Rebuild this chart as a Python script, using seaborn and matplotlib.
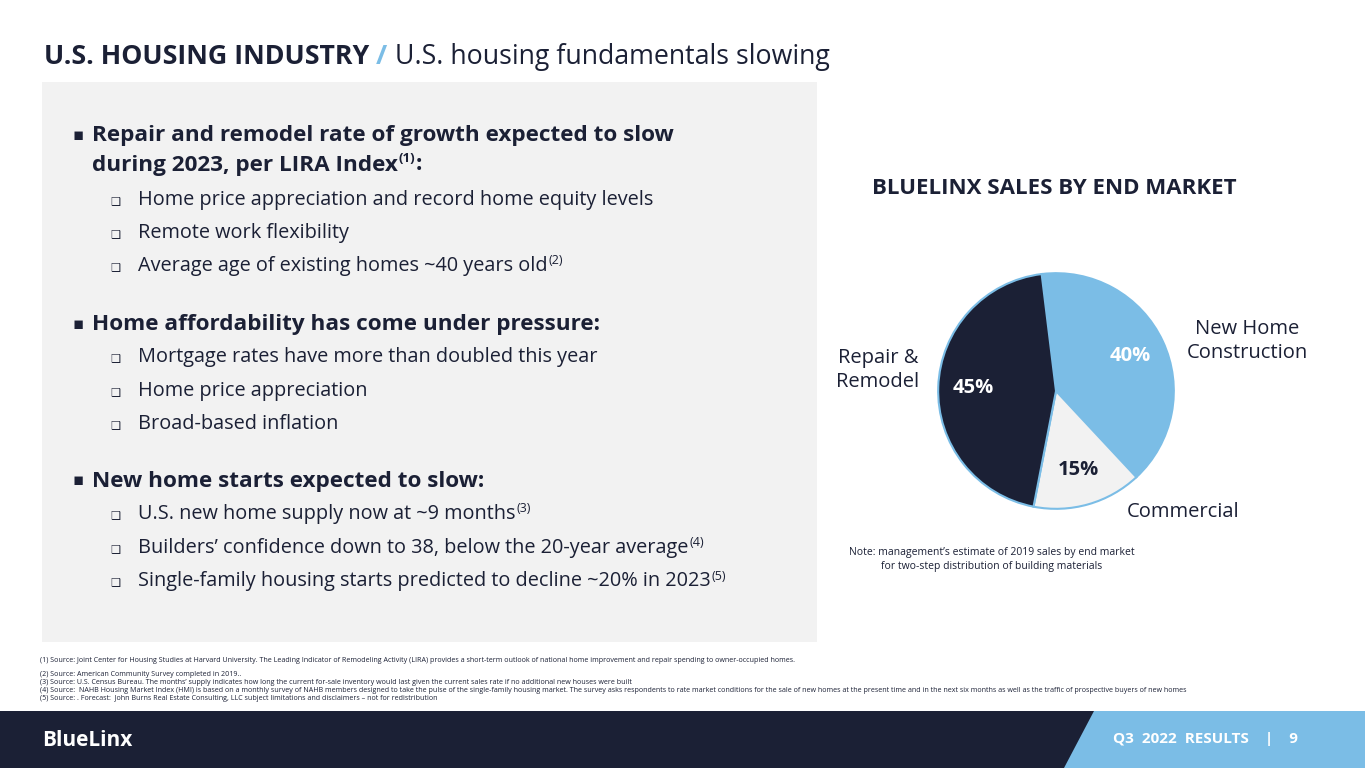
import matplotlib.pyplot as plt
import matplotlib.patches as mpatches
import seaborn as sns

sns.set_theme(style="white")
plt.rcParams["font.family"] = ["Open Sans", "DejaVu Sans"]

# data
segments = ["New Home Construction", "Commercial", "Repair & Remodel"]
shares = [40, 15, 45]
seg_colors = ["#7bbde6", "#f2f2f2", "#1b2035"]
pct_colors = ["white", "#1b2035", "white"]

NAVY = "#1b2035"
BLUE = "#7bbde6"
W, H = 1365, 768

fig = plt.figure(figsize=(13.65, 7.68), dpi=100)
fig.patch.set_facecolor("white")
r = fig.canvas.get_renderer()


def P(x, y):
    return x / W, 1 - y / H


def txt(x, y, s, **kw):
    return fig.text(*P(x, y), s, **kw)


def after(t, s, y, dx=1, dy=0, **kw):
    # place text s right after t, centred on row y (pixels from top)
    bb = t.get_window_extent(r)
    return fig.text((bb.x1 + dx) / W, 1 - (y - dy) / H, s, **kw)


# title
t = txt(44, 57, "U.S. HOUSING INDUSTRY ", fontsize=19.3, fontweight="bold", color=NAVY, va="center")
t2 = after(t, "/", 57, dx=0, fontsize=19.5, color=BLUE, fontweight="bold", va="center")
after(t2, " U.S. housing fundamentals slowing", 57, dx=0, fontsize=19.3, color=NAVY, va="center")

# grey panel
fig.patches.append(mpatches.Rectangle(P(42, 642), 775 / W, 560 / H, transform=fig.transFigure,
                                      facecolor="#f2f2f2", edgecolor="none", zorder=0))

main = dict(fontsize=16.2, fontweight="bold", color=NAVY, va="center")
subf = dict(fontsize=14.3, color=NAVY, va="center")

txt(73, 136, "▪", fontsize=12, color=NAVY, va="center")
txt(92, 136, "Repair and remodel rate of growth expected to slow", **main)
t = txt(92, 165, "during 2023, per LIRA Index", **main)
s1 = after(t, "(1)", 165, dx=1, dy=6, fontsize=9.5, color=NAVY, fontweight="bold", va="center")
after(s1, ":", 165, dx=0, **main)

items = [
    (200, "Home price appreciation and record home equity levels", None),
    (233, "Remote work flexibility", None),
    (266, "Average age of existing homes ~40 years old", "(2)"),
]
items2 = [
    (357, "Mortgage rates have more than doubled this year", None),
    (391, "Home price appreciation", None),
    (424, "Broad-based inflation", None),
]
items3 = [
    (514, "U.S. new home supply now at ~9 months", "(3)"),
    (548, "Builders’ confidence down to 38, below the 20-year average", "(4)"),
    (581, "Single-family housing starts predicted to decline ~20% in 2023", "(5)"),
]


def sub_list(lst):
    for y, s, note in lst:
        txt(110, y + 1, "❑", fontsize=8, color=NAVY, va="center", family=["DejaVu Sans"])
        t = txt(138, y, s, **subf)
        if note:
            after(t, note, y, dx=1, dy=5, fontsize=9, color=NAVY, va="center")


sub_list(items)
txt(73, 325, "▪", fontsize=12, color=NAVY, va="center")
txt(92, 325, "Home affordability has come under pressure:", **main)
sub_list(items2)
txt(73, 481, "▪", fontsize=12, color=NAVY, va="center")
txt(92, 481, "New home starts expected to slow:", **main)
sub_list(items3)

# pie
txt(1054, 188, "BLUELINX SALES BY END MARKET", fontsize=16, fontweight="bold", color=NAVY,
    ha="center", va="center")
ax = fig.add_axes([937 / W, 1 - 510 / H, 238 / W, 238 / H])
wedges, _, autotexts = ax.pie(shares, colors=seg_colors, startangle=97, counterclock=False,
                              autopct="%d%%", pctdistance=0.7,
                              wedgeprops=dict(edgecolor=BLUE, linewidth=1.5))
for a, c in zip(autotexts, pct_colors):
    a.set_color(c)
    a.set_fontsize(14.5)
    a.set_fontweight("bold")
ax.set_xlim(-1.01, 1.01)
ax.set_ylim(-1.01, 1.01)
ax.set_aspect("equal")

lab = dict(fontsize=14.5, color=NAVY, va="center")
txt(878, 370, "Repair &\nRemodel", ha="center", linespacing=1.25, **lab)
txt(1247, 341, "New Home\nConstruction", ha="center", linespacing=1.25, **lab)
txt(1183, 512, "Commercial", ha="center", **lab)

txt(849, 553, "Note: management’s estimate of 2019 sales by end market", fontsize=7.5, color=NAVY, va="center")
txt(881, 566, "for two-step distribution of building materials", fontsize=7.5, color=NAVY, va="center")

# footnotes
notes = [
    (661, "(1) Source: Joint Center for Housing Studies at Harvard University. The Leading Indicator of Remodeling Activity (LIRA) provides a short-term outlook of national home improvement and repair spending to owner-occupied homes."),
    (674, "(2) Source: American Community Survey completed in 2019.."),
    (682, "(3) Source: U.S. Census Bureau. The months’ supply indicates how long the current for-sale inventory would last given the current sales rate if no additional new houses were built"),
    (690, "(4) Source:  NAHB Housing Market Index (HMI) is based on a monthly survey of NAHB members designed to take the pulse of the single-family housing market. The survey asks respondents to rate market conditions for the sale of new homes at the present time and in the next six months as well as the traffic of prospective buyers of new homes"),
    (698, "(5) Source: . Forecast:  John Burns Real Estate Consulting, LLC subject limitations and disclaimers – not for redistribution"),
]
for y, s in notes:
    txt(40, y, s, fontsize=5.1, color=NAVY, va="center")

# footer
fig.patches.append(mpatches.Rectangle(P(0, 768), 1, 57 / H, transform=fig.transFigure,
                                      facecolor=NAVY, edgecolor="none", zorder=0))
fig.patches.append(mpatches.Polygon([P(1094, 711), P(1365, 711), P(1365, 768), P(1064, 768)],
                                    closed=True, transform=fig.transFigure,
                                    facecolor=BLUE, edgecolor="none", zorder=0))
txt(42, 740, "BlueLinx", fontsize=15, fontweight="bold", color="white", va="center")
txt(1298, 739, "Q3  2022  RESULTS    |    9", fontsize=11, fontweight="bold", color="white",
    ha="right", va="center")

fig.savefig("out.png", dpi=100)
